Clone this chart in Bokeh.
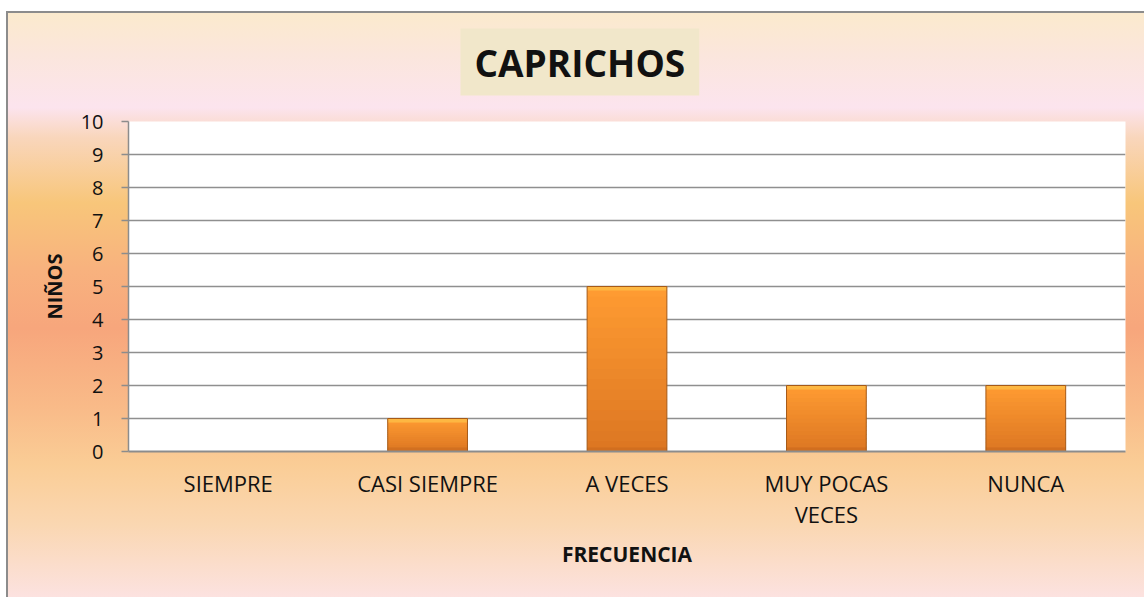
from bokeh.plotting import figure
from bokeh.models import Range1d, FixedTicker, SingleIntervalTicker, LinearAxis, ColumnDataSource
from bokeh.embed import file_html
from bokeh.resources import INLINE

# ---- data ----
categories = ["SIEMPRE", "CASI SIEMPRE", "A VECES", "MUY POCAS VECES", "NUNCA"]
values = [0, 1, 5, 2, 2]
tick_line1 = ["SIEMPRE", "CASI SIEMPRE", "A VECES", "MUY POCAS", "NUNCA"]
tick_line2 = ["", "", "", "VECES", ""]
title_text = "CAPRICHOS"
x_title = "FRECUENCIA"
y_title = "NIÑOS"
y_max = 10

FONT = "Open Sans"
xpos = list(range(len(categories)))

p = figure(
    x_range=Range1d(-0.5, len(categories) - 0.5),
    y_range=Range1d(0, y_max),
    width=1144, height=597,
    output_backend="svg", toolbar_location=None,
    min_border_left=128, min_border_right=19,
    min_border_top=121, min_border_bottom=146,
)
p.border_fill_color = None
p.background_fill_color = "white"
p.outline_line_color = None

p.styles = {
    "background-image": ", ".join([
        "linear-gradient(#ffffff, #ffffff)",
        "linear-gradient(to right, #ffffff 0px, #ffffff 6px, #8c8c8c 6px, #8c8c8c 8px, rgba(255,255,255,0) 8px)",
        "linear-gradient(to bottom, #ffffff 0px, #ffffff 11px, #8c8c8c 11px, #8c8c8c 13px, "
        "#FBEACD 13px, #FBE6DC 9%, #FCE4EE 18%, #F9D6BC 23%, #F8C67A 34%, #F8B27E 45%, "
        "#F7A67C 55%, #F9BA88 68%, #FACD96 78%, #FAD7B2 88%, #FCE2E0 100%)",
    ]),
    "background-size": "100% 11px, 100% 100%, 100% 100%",
    "background-position": "0 0, 0 0, 0 0",
    "background-repeat": "no-repeat",
}

# ---- bars: vertical gradient built from slices of each value ----
def mix(c1, c2, t):
    a = [int(c1[i:i + 2], 16) for i in (1, 3, 5)]
    b = [int(c2[i:i + 2], 16) for i in (1, 3, 5)]
    return "#%02x%02x%02x" % tuple(round(a[k] + (b[k] - a[k]) * t) for k in range(3))

n = 16
bottom_c, top_c = "#DC7622", "#FF9C32"
xs, bots, tops, cols = [], [], [], []
for x, v in zip(xpos, values):
    if v <= 0:
        continue
    for i in range(n):
        xs.append(x)
        bots.append(v * i / n)
        tops.append(min(v, v * (i + 1) / n + 0.03))
        cols.append(mix(bottom_c, top_c, (i + 0.5) / n))
p.vbar(x=xs, bottom=bots, top=tops, width=0.4, fill_color=cols, line_color=None)

pos = [(x, v) for x, v in zip(xpos, values) if v > 0]
src = ColumnDataSource(dict(x=[x for x, _ in pos], top=[v for _, v in pos],
                            hl=[v - 0.12 for _, v in pos], bs=[0.12 for _ in pos]))
p.vbar(x="x", top="top", bottom="hl", width=0.4, source=src,
       fill_color="#FDB742", line_color=None)
p.vbar(x="x", top="bs", bottom=0, width=0.4, source=src,
       fill_color="#C9691E", fill_alpha=0.6, line_color=None)
p.vbar(x="x", top="top", bottom=0, width=0.4, source=src,
       fill_color=None, line_color="#A65A18", line_width=1)

# ---- y axis ----
yax = p.yaxis[0]
yax.ticker = SingleIntervalTicker(interval=1)
yax.major_tick_out = 7
yax.major_tick_in = 0
yax.minor_tick_out = 0
yax.minor_tick_in = 0
yax.axis_line_color = "#8c8c8c"
yax.axis_line_width = 1.5
yax.major_tick_line_color = "#8c8c8c"
yax.major_tick_line_width = 1.5
yax.major_label_text_font = FONT
yax.major_label_text_font_size = "20px"
yax.major_label_text_color = "#111111"
yax.major_label_standoff = 18
yax.axis_label = y_title
yax.axis_label_text_font = FONT
yax.axis_label_text_font_style = "bold"
yax.axis_label_text_font_size = "20px"
yax.axis_label_text_color = "#111111"
yax.axis_label_standoff = 10

# ---- x axes: first line of category labels, then second line + title ----
xax = p.xaxis[0]
xax.ticker = FixedTicker(ticks=xpos)
xax.major_label_overrides = {x: t for x, t in zip(xpos, tick_line1)}
xax.major_tick_out = 0
xax.major_tick_in = 0
xax.minor_tick_out = 0
xax.minor_tick_in = 0
xax.axis_line_color = "#8c8c8c"
xax.axis_line_width = 2
xax.major_label_text_font = FONT
xax.major_label_text_font_size = "22px"
xax.major_label_text_color = "#111111"
xax.major_label_standoff = 16

xax2 = LinearAxis(ticker=FixedTicker(ticks=xpos),
                  major_label_overrides={x: (t if t else " ") for x, t in zip(xpos, tick_line2)})
xax2.major_tick_out = 0
xax2.major_tick_in = 0
xax2.minor_tick_out = 0
xax2.minor_tick_in = 0
xax2.axis_line_color = None
xax2.major_label_text_font = FONT
xax2.major_label_text_font_size = "22px"
xax2.major_label_text_color = "#111111"
xax2.major_label_standoff = -2
xax2.axis_label = x_title
xax2.axis_label_text_font = FONT
xax2.axis_label_text_font_style = "bold"
xax2.axis_label_text_font_size = "21px"
xax2.axis_label_text_color = "#111111"
xax2.axis_label_standoff = 8
p.add_layout(xax2, "below")

p.xgrid.grid_line_color = None
p.ygrid.grid_line_color = "#8f8f8f"
p.ygrid.grid_line_width = 1.5

# ---- title ----
p.title.text = title_text
p.title.align = "left"
p.title.offset = 332
p.title.standoff = 52
p.title.text_font = FONT
p.title.text_font_style = "bold"
p.title.text_font_size = "37px"
p.title.text_color = "#111111"
p.title.background_fill_color = "#F1E7CA"
p.title.padding = (14, 8)

open("out.html", "w").write(file_html(p, INLINE))
